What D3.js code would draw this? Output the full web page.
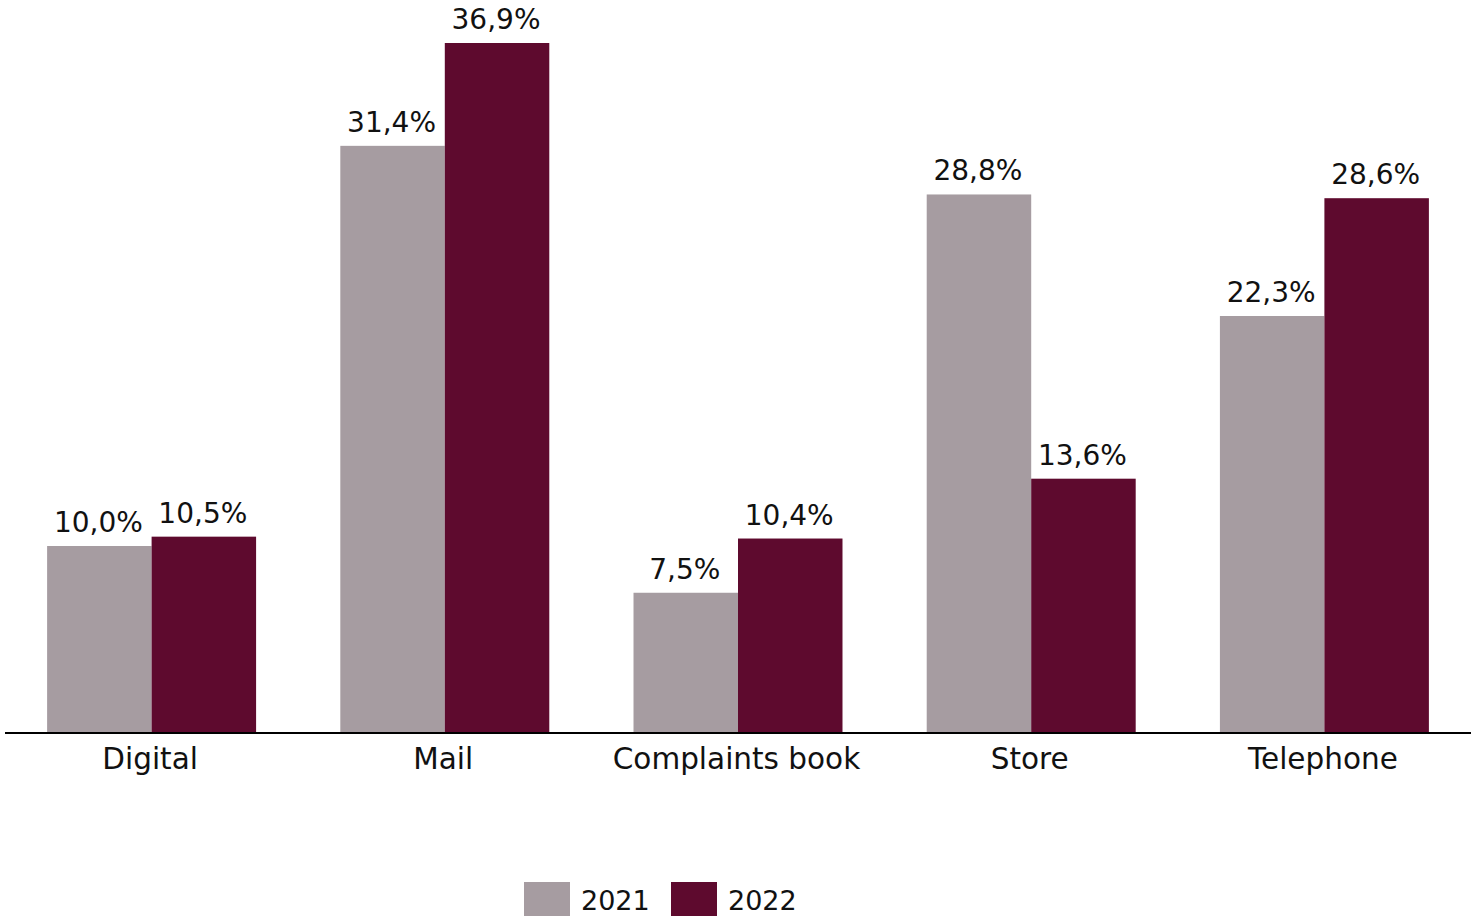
<!DOCTYPE html>
<html><head><meta charset="utf-8">
<script src="https://d3js.org/d3.v7.min.js"></script>
<style>
  body { margin: 0; background: #fff; }
  text { font-family: "DejaVu Sans", sans-serif; fill: #111; }
</style>
</head>
<body>
<svg width="1471" height="918"></svg>
<script>
var categories = ["Digital", "Mail", "Complaints book", "Store", "Telephone"];
var years = ["2021", "2022"];
var values2021 = [10.0, 31.4, 7.5, 28.8, 22.3];
var values2022 = [10.5, 36.9, 10.4, 13.6, 28.6];
var colors = ["#a69ca1", "#5e0a2e"];

var svg = d3.select("svg");
var baseY = 733;

var rows = categories.map(function (c, i) {
  return { cat: c, vals: [values2021[i], values2022[i]] };
});

// group scale and year scale inside each group
var x0 = d3.scaleBand().domain(categories).range([5, 1471]).padding(0);
var x1 = d3.scaleBand().domain(years).range([0, x0.bandwidth()]).paddingInner(0).paddingOuter(0.403);
var y = d3.scaleLinear().domain([0, 36.9]).range([baseY, 43]);

var fmt = function (v) { return d3.format(".1f")(v).replace(".", ",") + "%"; };

var groups = svg.selectAll("g.grp")
  .data(rows)
  .enter()
  .append("g")
  .attr("class", "grp")
  .attr("transform", function (d) { return "translate(" + x0(d.cat) + ",0)"; });

groups.selectAll("rect")
  .data(function (d) { return d.vals.map(function (v, j) { return { year: years[j], v: v, j: j }; }); })
  .enter()
  .append("rect")
  .attr("x", function (d) { return x1(d.year); })
  .attr("y", function (d) { return y(d.v); })
  .attr("width", x1.bandwidth())
  .attr("height", function (d) { return baseY - y(d.v); })
  .attr("fill", function (d) { return colors[d.j]; });

groups.selectAll("text.val")
  .data(function (d) { return d.vals.map(function (v, j) { return { year: years[j], v: v }; }); })
  .enter()
  .append("text")
  .attr("class", "val")
  .attr("x", function (d) { return x1(d.year) + x1.bandwidth() / 2 - 1; })
  .attr("y", function (d) { return y(d.v) - 14; })
  .attr("text-anchor", "middle")
  .style("font-size", "28px")
  .text(function (d) { return fmt(d.v); });

// axis line
svg.append("line")
  .attr("x1", 5).attr("x2", 1471)
  .attr("y1", baseY).attr("y2", baseY)
  .attr("stroke", "#000").attr("stroke-width", 2);

// category labels
svg.selectAll("text.cat")
  .data(categories)
  .enter()
  .append("text")
  .attr("class", "cat")
  .attr("x", function (d) { return x0(d) + x0.bandwidth() / 2 - 1.5; })
  .attr("y", 769)
  .attr("text-anchor", "middle")
  .style("font-size", "29.5px")
  .text(function (d) { return d; });

// legend
var legendX = [524, 671];
var leg = svg.selectAll("g.leg")
  .data(years)
  .enter()
  .append("g")
  .attr("class", "leg")
  .attr("transform", function (d, i) { return "translate(" + legendX[i] + ",882)"; });
leg.append("rect")
  .attr("width", 46).attr("height", 34)
  .attr("fill", function (d, i) { return colors[i]; });
leg.append("text")
  .attr("x", 57).attr("y", 28)
  .style("font-size", "27px")
  .text(function (d) { return d; });
</script>
</body></html>
